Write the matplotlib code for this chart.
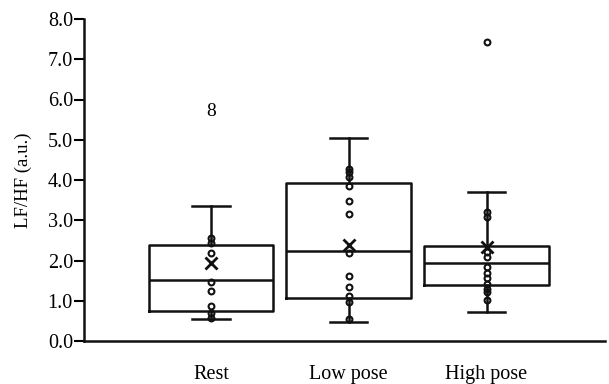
import matplotlib
matplotlib.use("Agg")
import matplotlib.pyplot as plt

categories = ["Rest", "Low pose", "High pose"]
whisker_low = [0.55, 0.47, 0.72]
q1 = [0.75, 1.07, 1.39]
median = [1.52, 2.24, 1.93]
q3 = [2.39, 3.93, 2.36]
whisker_high = [3.35, 5.04, 3.70]
means = [1.94, 2.38, 2.33]
outliers = [[], [], [7.43]]
points = [
    [2.56, 2.43, 2.19, 1.47, 1.24, 0.87, 0.70, 0.57],
    [4.27, 4.20, 4.07, 3.85, 3.48, 3.16, 2.19, 1.61, 1.34, 1.12, 0.97, 0.55],
    [3.20, 3.08, 2.21, 2.09, 1.84, 1.69, 1.56, 1.42, 1.29, 1.22, 1.02],
]
outlier_label = "8"
outlier_label_y = 5.69
yticks = [0, 1, 2, 3, 4, 5, 6, 7, 8]

plt.rcParams['font.family'] = ['Liberation Serif', 'DejaVu Serif']

fig = plt.figure(figsize=(6.09, 3.84), dpi=100)
ax = fig.add_axes([84/609, 1-341/384, (605-84)/609, (341-19)/384])

stats = []
for i, c in enumerate(categories):
    stats.append(dict(label=c, whislo=whisker_low[i], q1=q1[i], med=median[i],
                      q3=q3[i], whishi=whisker_high[i], mean=means[i], fliers=outliers[i]))

pos = [1, 2, 3]
lw = 1.8
ax.bxp(stats, positions=pos, widths=0.907, showmeans=True, showfliers=True,
       boxprops=dict(color='#111111', linewidth=lw),
       medianprops=dict(color='#111111', linewidth=lw),
       whiskerprops=dict(color='#111111', linewidth=lw),
       capprops=dict(color='#111111', linewidth=lw),
       capwidths=0.27,
       meanprops=dict(marker='x', markersize=8, markeredgecolor='#111111', markeredgewidth=2),
       flierprops=dict(marker='o', markersize=4.2, markerfacecolor='none',
                       markeredgecolor='#111111', markeredgewidth=1.5))

for p, pts in zip(pos, points):
    ax.plot([p]*len(pts), pts, linestyle='none', marker='o', markersize=4.2,
            markerfacecolor='none', markeredgecolor='#111111', markeredgewidth=1.5, zorder=4)

ax.text(1, outlier_label_y, outlier_label, ha='center', va='center', fontsize=14)

ax.set_xlim(0.078, 3.86)
ax.set_ylim(0, 8)
ax.set_yticks(yticks)
ax.set_yticklabels([f"{v:.1f}" for v in yticks], fontsize=14.5)
ax.set_xticks(pos)
ax.set_xticklabels(categories, fontsize=14.5)
ax.tick_params(axis='x', length=0, pad=17)
ax.tick_params(axis='y', length=7, width=1.5, direction='out', pad=1)
ax.set_ylabel("LF/HF (a.u.)", fontsize=13.5, labelpad=11)
ax.spines['top'].set_visible(False)
ax.spines['right'].set_visible(False)
ax.spines['left'].set_linewidth(1.8)
ax.spines['bottom'].set_linewidth(1.8)
for s in ax.spines.values():
    s.set_color('#111111')

fig.savefig("out.png", dpi=100)
